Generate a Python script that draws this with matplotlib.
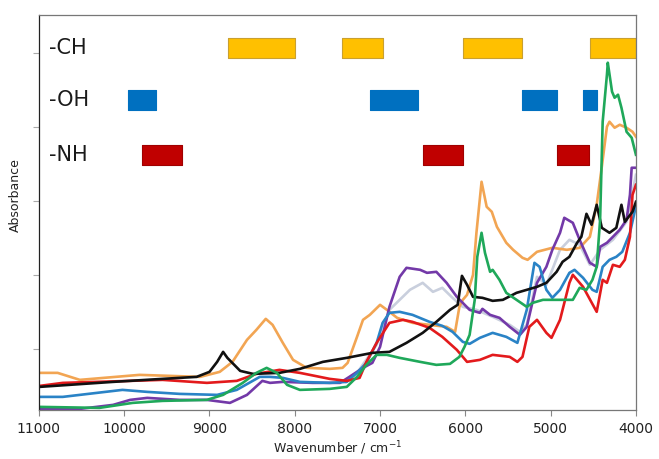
import matplotlib
matplotlib.use("Agg")
import matplotlib.pyplot as plt

# spectra: wavenumber (cm-1) and absorbance (arb. units)
orange_x = [10990, 10780, 10520, 9820, 9110, 8880, 8730, 8560, 8450, 8340, 8260, 8140, 8020, 7860,
            7590, 7440, 7380, 7270, 7200, 7120, 7000, 6920, 6800, 6620, 6420, 6220, 6120, 6070,
            6030, 5980, 5910, 5870, 5810, 5750, 5690, 5630, 5520, 5440, 5330, 5270, 5160, 4980,
            4810, 4660, 4540, 4460, 4400, 4340, 4310, 4250, 4190, 4110, 4040, 4000]
orange_y = [0.37, 0.37, 0.30, 0.35, 0.33, 0.38, 0.48, 0.70, 0.80, 0.91, 0.85, 0.67, 0.50, 0.42,
            0.41, 0.42, 0.47, 0.73, 0.90, 0.95, 1.05, 1.00, 0.92, 0.87, 0.85, 0.83, 0.78, 1.03,
            1.10, 1.15, 1.35, 1.77, 2.28, 2.03, 1.98, 1.83, 1.67, 1.60, 1.52, 1.50, 1.58, 1.62,
            1.60, 1.62, 1.73, 2.05, 2.43, 2.83, 2.88, 2.82, 2.85, 2.82, 2.78, 2.73]

black_x = [10990, 10130, 9550, 9150, 9000, 8910, 8840, 8790, 8640, 8490, 8180, 7940, 7670, 7390,
           7090, 6890, 6690, 6500, 6340, 6180, 6090, 6040, 5980, 5910, 5800, 5680, 5560, 5400,
           5160, 5050, 4930, 4860, 4780, 4690, 4640, 4580, 4520, 4460, 4400, 4310, 4230, 4170,
           4130, 4040, 4000]
black_y = [0.23, 0.28, 0.31, 0.33, 0.38, 0.48, 0.58, 0.52, 0.39, 0.36, 0.37, 0.41, 0.48, 0.52,
           0.57, 0.58, 0.67, 0.77, 0.88, 1.00, 1.05, 1.34, 1.25, 1.13, 1.12, 1.09, 1.10, 1.17,
           1.23, 1.27, 1.38, 1.48, 1.53, 1.67, 1.73, 1.96, 1.85, 2.05, 1.82, 1.77, 1.82, 2.05,
           1.88, 1.98, 2.08]

red_x = [10990, 10720, 9930, 9550, 9030, 8680, 8450, 8180, 7940, 7590, 7390, 7240, 7160, 7040,
         6890, 6730, 6620, 6420, 6270, 6100, 5980, 5830, 5680, 5480, 5390, 5330, 5250, 5160,
         5050, 4990, 4890, 4780, 4740, 4620, 4460, 4390, 4340, 4270, 4190, 4130, 4070, 4040, 4000]
red_y = [0.24, 0.27, 0.29, 0.30, 0.27, 0.29, 0.36, 0.40, 0.37, 0.31, 0.29, 0.32, 0.48, 0.67,
         0.87, 0.90, 0.88, 0.82, 0.73, 0.60, 0.48, 0.50, 0.55, 0.53, 0.48, 0.53, 0.83, 0.90,
         0.77, 0.72, 0.90, 1.27, 1.35, 1.23, 0.98, 1.30, 1.27, 1.45, 1.43, 1.50, 1.73, 2.15, 2.25]

blue_x = [10990, 10720, 10320, 10020, 9730, 9350, 8910, 8680, 8410, 8290, 8140, 7940, 7590, 7390,
          7270, 7160, 7040, 6970, 6890, 6770, 6620, 6420, 6270, 6150, 6030, 5950, 5830, 5680,
          5520, 5390, 5280, 5190, 5130, 5050, 4980, 4890, 4780, 4720, 4620, 4510, 4460, 4390,
          4310, 4230, 4160, 4070, 4010, 4000]
blue_y = [0.13, 0.13, 0.17, 0.20, 0.18, 0.16, 0.15, 0.20, 0.33, 0.33, 0.32, 0.28, 0.27, 0.28,
          0.37, 0.47, 0.67, 0.87, 0.97, 0.98, 0.95, 0.88, 0.84, 0.78, 0.68, 0.66, 0.72, 0.77,
          0.73, 0.67, 1.00, 1.47, 1.43, 1.20, 1.12, 1.20, 1.37, 1.40, 1.32, 1.20, 1.18, 1.43,
          1.50, 1.53, 1.58, 1.77, 2.00, 2.05]

purple_x = [10990, 10520, 10130, 9930, 9730, 9350, 9030, 8760, 8560, 8380, 8290, 8140, 7790, 7470,
            7360, 7200, 7090, 7000, 6890, 6770, 6690, 6530, 6450, 6340, 6220, 6100, 5950, 5830,
            5800, 5710, 5600, 5480, 5360, 5280, 5160, 5050, 4980, 4890, 4840, 4740, 4660, 4540,
            4460, 4420, 4340, 4270, 4190, 4110, 4070, 4050, 4000]
purple_y = [0.01, 0.01, 0.05, 0.10, 0.12, 0.10, 0.10, 0.07, 0.15, 0.29, 0.27, 0.28, 0.27, 0.27,
            0.33, 0.42, 0.47, 0.63, 1.03, 1.33, 1.42, 1.40, 1.37, 1.38, 1.27, 1.13, 1.00, 0.97,
            1.01, 0.95, 0.92, 0.83, 0.75, 0.83, 1.27, 1.43, 1.60, 1.77, 1.92, 1.87, 1.70, 1.47,
            1.43, 1.63, 1.67, 1.73, 1.80, 1.90, 2.15, 2.42, 2.42]

green_x = [10990, 10290, 9900, 9550, 9030, 8840, 8610, 8450, 8330, 8210, 8090, 7940, 7590, 7390,
           7270, 7160, 7040, 6920, 6770, 6530, 6340, 6180, 6070, 6010, 5950, 5890, 5860, 5810,
           5770, 5710, 5680, 5600, 5520, 5400, 5280, 5210, 5090, 4890, 4740, 4660, 4580, 4510,
           4460, 4420, 4390, 4340, 4330, 4280, 4250, 4210, 4170, 4110, 4050, 4000]
green_y = [0.03, 0.02, 0.07, 0.09, 0.10, 0.15, 0.27, 0.37, 0.42, 0.37, 0.25, 0.20, 0.21, 0.23,
           0.33, 0.45, 0.55, 0.55, 0.52, 0.48, 0.45, 0.46, 0.53, 0.63, 0.75, 1.10, 1.53, 1.77,
           1.57, 1.38, 1.40, 1.30, 1.17, 1.10, 1.03, 1.07, 1.10, 1.10, 1.10, 1.22, 1.20, 1.30,
           1.43, 1.90, 2.88, 3.35, 3.47, 3.18, 3.12, 3.15, 3.02, 2.78, 2.72, 2.55]

gray_x = [7400, 7270, 7040, 6890, 6770, 6650, 6500, 6380, 6270, 6150, 6030, 5870, 5680, 5480,
          5360, 5280, 5160, 5050, 4890, 4780, 4660, 4540, 4420, 4270, 4110, 4000]
gray_y = [0.28, 0.37, 0.65, 1.00, 1.10, 1.20, 1.27, 1.18, 1.22, 1.12, 1.03, 1.00, 0.93, 0.85,
          0.78, 0.85, 1.33, 1.25, 1.60, 1.70, 1.65, 1.45, 1.60, 1.70, 1.88, 2.35]

# absorption band ranges (start, end) in cm-1
band_names = ["-CH", "-OH", "-NH"]
ch_bands = [(8780, 8000), (7450, 6970), (6030, 5330), (4540, 4000)]
oh_bands = [(9960, 9630), (7120, 6560), (5330, 4930), (4620, 4460)]
nh_bands = [(9790, 9320), (6500, 6030), (4930, 4550)]

fig = plt.figure(figsize=(6.59, 4.59), dpi=100)
ax = fig.add_axes([0.059, 0.107, 0.906, 0.861])

lw = 1.9
ax.plot(gray_x, gray_y, color="#C9CFDD", lw=lw)
ax.plot(orange_x, orange_y, color="#F2A553", lw=lw)
ax.plot(purple_x, purple_y, color="#7339A8", lw=lw)
ax.plot(blue_x, blue_y, color="#2A83C6", lw=lw)
ax.plot(red_x, red_y, color="#E31A1C", lw=lw)
ax.plot(black_x, black_y, color="#111111", lw=lw)
ax.plot(green_x, green_y, color="#1FA85A", lw=lw)

# band boxes
rows = [(3.52, ch_bands, "#FFC000", "#C9A030"),
        (3.00, oh_bands, "#0070C0", "#0070C0"),
        (2.45, nh_bands, "#C00000", "#A00000")]
for name, (y0, bands, fc, ec) in zip(band_names, rows):
    ax.broken_barh([(a, b - a) for a, b in bands], (y0, 0.20),
                   facecolor=fc, edgecolor=ec, lw=0.8)
    ax.text(10880, y0 + 0.10, name, fontsize=15, va="center", ha="left", color="#1a1a1a")

ax.set_xlim(11000, 4000)
ax.set_ylim(0, 3.95)
ax.set_xticks(range(11000, 3999, -1000))
ax.set_yticks([0.61, 1.35, 2.09, 2.83, 3.57])
ax.set_yticklabels([])
ax.tick_params(axis="x", labelsize=10, length=4, color="#888888", pad=5, labelcolor="#222222")
ax.tick_params(axis="y", length=4, color="#aaaaaa")
for s in ax.spines.values():
    s.set_color("#777777")
    s.set_linewidth(0.9)
ax.spines["left"].set_color("#222222")

ax.set_xlabel("Wavenumber / cm$^{-1}$", fontsize=9, labelpad=2, color="#222222")
ax.set_ylabel("Absorbance", fontsize=9, color="#222222")
ax.yaxis.set_label_coords(-0.028, 0.544)

fig.savefig("out.png", dpi=100)
